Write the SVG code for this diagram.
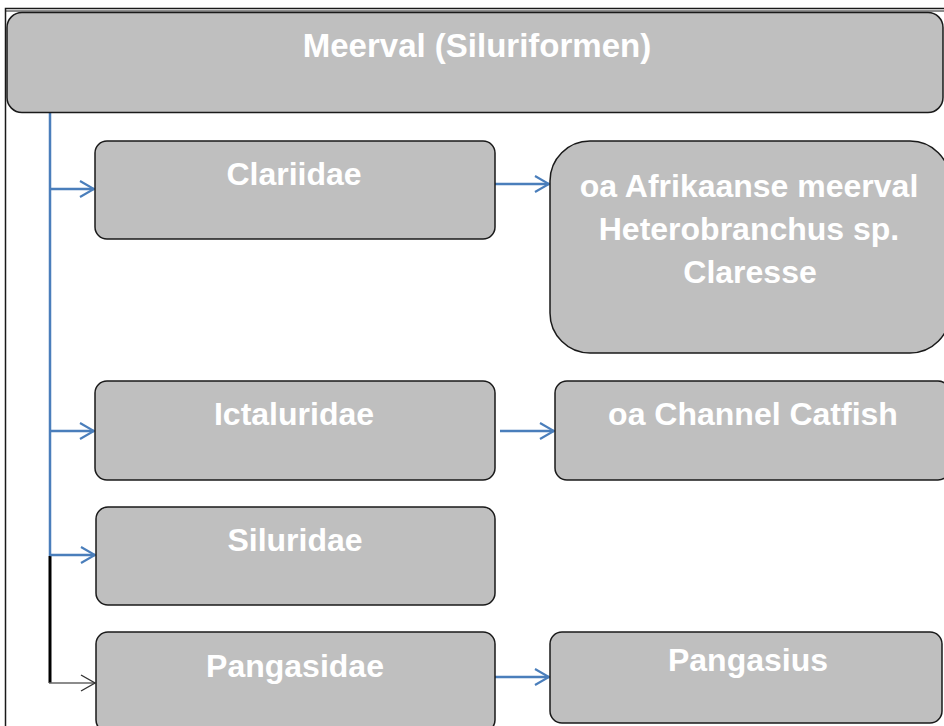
<svg xmlns="http://www.w3.org/2000/svg" width="944" height="726" viewBox="0 0 944 726">
<defs>
<style>
.box{fill:#bfbfbf;stroke:#1a1a1a;stroke-width:1.5}
.t{font-family:"Liberation Sans",Arial,sans-serif;font-weight:bold;font-size:32px;fill:#ffffff;text-anchor:middle}
.blue{stroke:#4a7ebb;stroke-width:2.5;fill:none}
</style>
<marker id="ab" markerWidth="18" markerHeight="20" viewBox="0 0 18 20" refX="16" refY="10" orient="auto" markerUnits="userSpaceOnUse">
<path d="M2,2 L16,10 L2,18" fill="none" stroke="#4a7ebb" stroke-width="2.2"/>
</marker>
<marker id="ak" markerWidth="18" markerHeight="20" viewBox="0 0 18 20" refX="16" refY="10" orient="auto" markerUnits="userSpaceOnUse">
<path d="M2,2 L16,10 L2,18" fill="none" stroke="#333333" stroke-width="1.4"/>
</marker>
</defs>
<rect x="0" y="0" width="944" height="726" fill="#ffffff"/>
<rect x="5.5" y="8.5" width="960" height="740" fill="none" stroke="#1a1a1a" stroke-width="1.5"/>
<line x1="5" y1="11" x2="944" y2="11" stroke="#1a1a1a" stroke-width="1"/>

<g id="connectors">
<line x1="50" y1="113" x2="50" y2="556" class="blue"/>
<line x1="50" y1="556" x2="50" y2="683" stroke="#000000" stroke-width="3"/>
<line x1="50" y1="189" x2="94" y2="189" class="blue" marker-end="url(#ab)"/>
<line x1="50" y1="431" x2="94" y2="431" class="blue" marker-end="url(#ab)"/>
<line x1="50" y1="555" x2="95" y2="555" class="blue" marker-end="url(#ab)"/>
<line x1="49" y1="683" x2="95" y2="683" stroke="#666666" stroke-width="1.5" marker-end="url(#ak)"/>
<line x1="495" y1="184" x2="549" y2="184" class="blue" marker-end="url(#ab)"/>
<line x1="500" y1="431" x2="554" y2="431" class="blue" marker-end="url(#ab)"/>
<line x1="495" y1="677" x2="549" y2="677" class="blue" marker-end="url(#ab)"/>
</g>

<g id="meerval">
<rect class="box" x="7" y="12.5" width="936" height="100" rx="15"/>
<text class="t" x="477" y="57" style="font-size:33px">Meerval (Siluriformen)</text>
</g>
<g id="clariidae">
<rect class="box" x="95" y="141" width="400" height="98" rx="12"/>
<text class="t" x="294" y="185">Clariidae</text>
</g>
<g id="afrikaanse">
<rect class="box" x="550" y="141" width="400" height="212" rx="40"/>
<text class="t" x="749" y="197">oa Afrikaanse meerval</text>
<text class="t" x="749" y="240">Heterobranchus sp.</text>
<text class="t" x="750" y="283">Claresse</text>
</g>
<g id="ictaluridae">
<rect class="box" x="95" y="381" width="400" height="99" rx="12"/>
<text class="t" x="294" y="425">Ictaluridae</text>
</g>
<g id="channel">
<rect class="box" x="555" y="381" width="395" height="99" rx="12"/>
<text class="t" x="753" y="425">oa Channel Catfish</text>
</g>
<g id="siluridae">
<rect class="box" x="96" y="507" width="399" height="98" rx="12"/>
<text class="t" x="295" y="551">Siluridae</text>
</g>
<g id="pangasidae">
<rect class="box" x="96" y="632" width="399" height="100" rx="12"/>
<text class="t" x="295" y="677">Pangasidae</text>
</g>
<g id="pangasius">
<rect class="box" x="550" y="632" width="392" height="91" rx="12"/>
<text class="t" x="748" y="671">Pangasius</text>
</g>
</svg>
